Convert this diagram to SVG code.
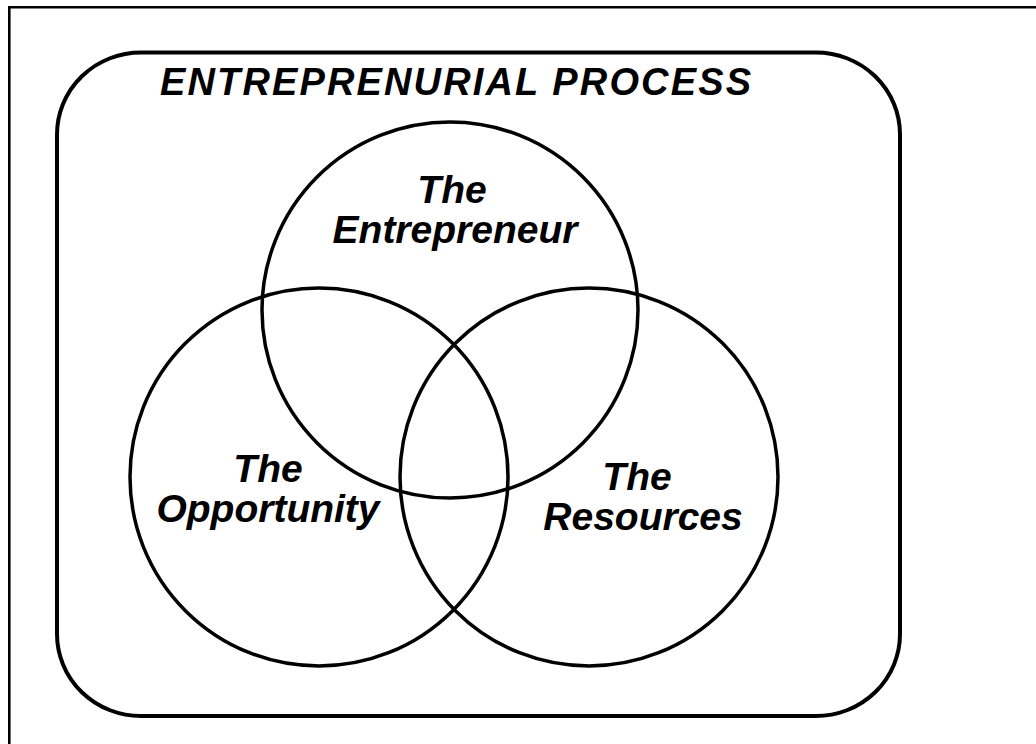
<svg xmlns="http://www.w3.org/2000/svg" width="1036" height="744" viewBox="0 0 1036 744">
  <style>
    .frame { stroke: #000; stroke-width: 2.6; fill: none; }
    .box { stroke: #000; stroke-width: 4; fill: none; }
    .set { stroke: #000; stroke-width: 3.5; fill: none; }
    .title { font-family: "Liberation Sans", Arial, sans-serif; font-weight: bold; font-style: italic; font-size: 38px; fill: #000; }
    .label { font-family: "Liberation Sans", Arial, sans-serif; font-weight: bold; font-style: italic; font-size: 39px; fill: #000; text-anchor: middle; }
  </style>
  <rect width="1036" height="744" fill="#fff"/>

  <!-- page rules along the top and left edges -->
  <g id="page-frame">
    <line class="frame" x1="9.3" y1="7.3" x2="1036" y2="7.3"/>
    <line class="frame" x1="9.3" y1="6" x2="9.3" y2="744"/>
  </g>

  <!-- enclosing process boundary with its heading -->
  <g id="process">
    <rect class="box" x="57" y="52.5" width="843" height="663.5" rx="84" ry="82"/>
    <text class="title" x="160" y="95" textLength="591" lengthAdjust="spacing">ENTREPRENURIAL PROCESS</text>
  </g>

  <!-- three overlapping sets -->
  <g id="entrepreneur">
    <circle class="set" cx="450" cy="310" r="188"/>
    <text class="label" x="452" y="203">The</text>
    <text class="label" x="455" y="243">Entrepreneur</text>
  </g>
  <g id="opportunity">
    <circle class="set" cx="319" cy="477" r="189"/>
    <text class="label" x="268" y="482">The</text>
    <text class="label" x="268" y="522">Opportunity</text>
  </g>
  <g id="resources">
    <circle class="set" cx="589" cy="477" r="189"/>
    <text class="label" x="637" y="490">The</text>
    <text class="label" x="643" y="530">Resources</text>
  </g>

  <g id="connectors"/>
</svg>
